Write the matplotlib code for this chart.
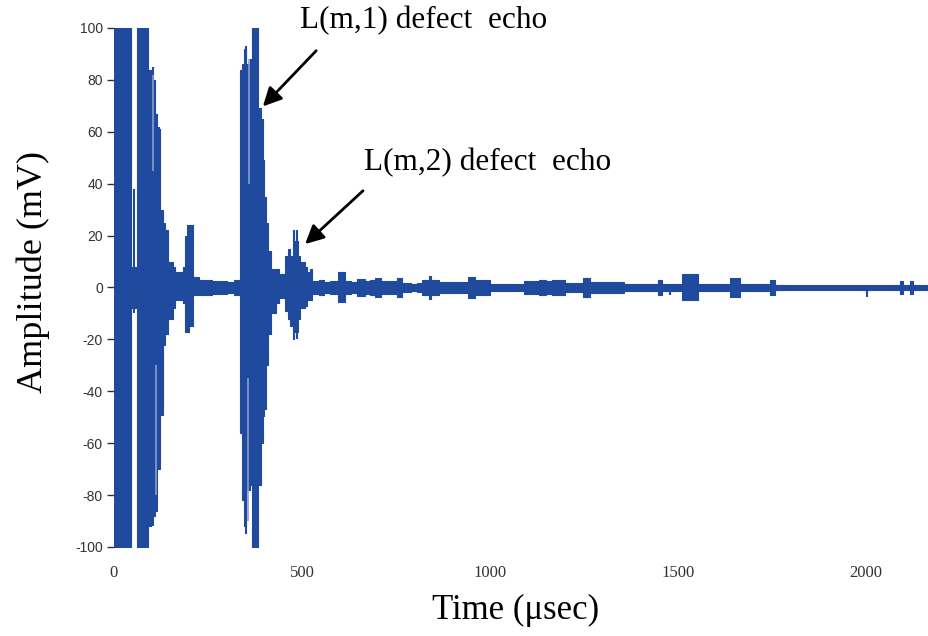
import matplotlib.pyplot as plt

plt.rcParams['axes.unicode_minus'] = False

# envelope of the waveform (time in usec, amplitude in mV)
# initial pulse and first echoes
env_time = [0, 45, 61, 90, 98, 109, 114, 122, 130, 136, 144, 157, 162, 184, 189, 200, 210,
            225, 262, 300, 318,
            # L(m,1) defect echo
            335, 340, 345, 352, 362, 367, 383, 390, 396, 404, 410, 418, 430, 440,
            # L(m,2) defect echo
            455, 462, 468, 476, 480, 489, 495, 508, 513, 521,
            # tail
            527, 545, 560, 575, 596, 615, 630, 646, 668, 680, 695, 710, 752, 766, 790,
            805, 819, 837, 844, 864, 942, 960, 1000, 1090, 1130, 1150, 1165, 1200, 1247, 1266,
            1293, 1356, 1447, 1458, 1511, 1553, 1639, 1665, 1745, 1758, 2091, 2100, 2117, 2126, 2170]
env_upper = [100, 8, 100, 84, 80, 67, 61, 30, 25, 22, 10, 8, 6, 8, 20, 24, 4,
             3, 2.5, 2, 3,
             84, 86, 92, 86, 88, 100, 69, 65, 35, 25, 14, 7, 7, 5,
             12, 15, 12, 22, 18, 12, 10, 8, 6, 7,
             2.5, 3, 2.2, 2.5, 6, 2.5, 2, 3.3, 2.5, 3, 3.5, 2.5, 3.5, 1.8, 1.2,
             1.8, 3, 4.5, 3, 2.2, 4.2, 3, 1.5, 2.5, 3, 2.5, 3, 1.8, 3.5, 2,
             2.2, 1.2, 3, 1.4, 5, 1.3, 3.5, 1.3, 3, 1, 2.5, 1, 2.5, 1, 1]
env_lower = [-100, -8, -100, -92, -88, -86, -70, -49, -22, -18, -12, -8, -5, -6, -17, -15, -3,
             -3, -2.5, -2, -3,
             -56, -82, -92, -78, -76, -100, -76, -60, -47, -30, -18, -10, -6, -4,
             -9, -12, -15, -20, -17, -12, -8, -7, -5, -5,
             -2.5, -3, -2.2, -2.5, -5.5, -2.5, -2, -3.3, -2.5, -3, -3.5, -2.5, -3.5, -1.8, -1.2,
             -1.8, -3, -4.5, -3, -2.2, -4.2, -3, -1.5, -2.5, -3, -2.5, -3, -1.8, -3.5, -2,
             -2.2, -1.2, -3, -1.4, -5, -1.3, -3.5, -1.3, -3, -1, -2.5, -1, -2.5, -1, -1]

# thin single-cycle spikes visible inside the bursts
spike_time = [52, 104, 120, 134, 198, 350, 376, 400, 486, 1480, 2003]
spike_top = [38, 85, 62, 24, 24, 93, 100, 49, 22, 1, 1]
spike_bottom = [-10, -92, -60, -22, -17, -95, -100, -50, -20, -3, -3.5]

# lighter strips inside the bursts
strip_time = [103, 111, 357, 360]
strip_top = [82, -30, -35, 88]
strip_bottom = [45, -80, -90, 40]

y_ticks = [-100, -80, -60, -40, -20, 0, 20, 40, 60, 80, 100]
x_ticks = [0, 500, 1000, 1500, 2000]

blue = '#1F4A9E'

fig = plt.figure(figsize=(9.29, 6.36), dpi=100)
ax = fig.add_axes([0.1227, 0.140, 0.878, 0.816])

ax.fill_between(env_time, env_lower, env_upper, step='post', color=blue, lw=0.8, edgecolor=blue)
ax.vlines(spike_time, spike_bottom, spike_top, color=blue, lw=1.5)
ax.vlines(strip_time, strip_bottom, strip_top, color='#8C9EC8', lw=1.2)

ax.set_xlim(0, 2170)
ax.set_ylim(-100, 100)
for s in ax.spines.values():
    s.set_visible(False)

ax.set_yticks(y_ticks)
ax.set_yticklabels([str(v) for v in y_ticks], family='Liberation Sans', fontsize=10, color='#333333')
ax.tick_params(axis='y', length=5, width=1, pad=3, color='#333333')
ax.set_xticks(x_ticks)
ax.set_xticklabels([str(v) for v in x_ticks], family='Liberation Serif', fontsize=12, color='#333333')
ax.tick_params(axis='x', length=0, pad=13)

ax.set_ylabel('Amplitude (mV)', family='Liberation Serif', fontsize=26)
ax.yaxis.set_label_coords(-0.078, 0.53)
ax.set_xlabel('Time (\u03bcsec)', family='Liberation Serif', fontsize=25)
ax.xaxis.set_label_coords(0.4926, -0.091)

# annotations with arrows
ax.text(495, 103, 'L(m,1) defect  echo', family='Liberation Serif', fontsize=22.5,
        va='center', ha='left', clip_on=False)
ax.annotate('', xy=(391, 69), xytext=(543, 92), annotation_clip=False,
            arrowprops=dict(arrowstyle='-|>', lw=2, color='black', mutation_scale=28))
ax.text(665, 48, 'L(m,2) defect  echo', family='Liberation Serif', fontsize=22.5,
        va='center', ha='left')
ax.annotate('', xy=(503, 16), xytext=(668, 38),
            arrowprops=dict(arrowstyle='-|>', lw=2, color='black', mutation_scale=28))

fig.savefig('out.png', dpi=100)
